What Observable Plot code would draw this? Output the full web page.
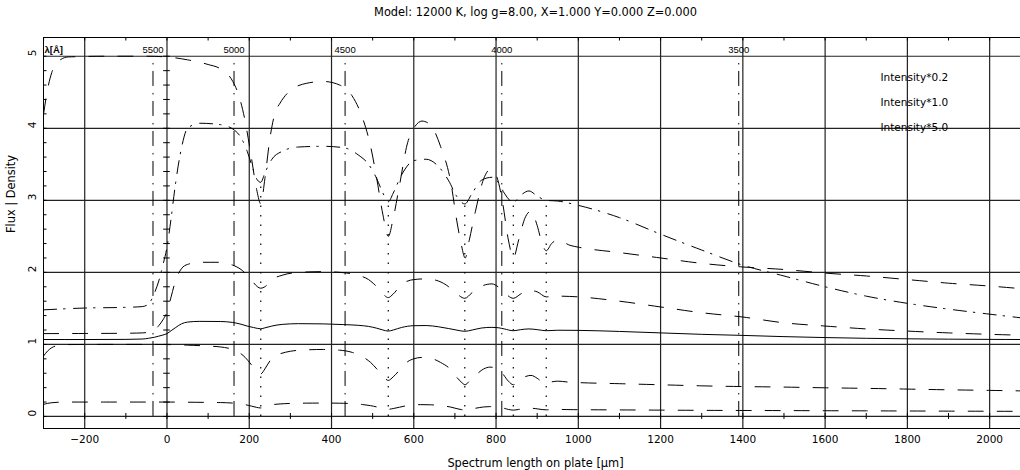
<!DOCTYPE html>
<html><head><meta charset="utf-8">
<script src="https://cdn.jsdelivr.net/npm/d3@7"></script>
<script src="https://cdn.jsdelivr.net/npm/@observablehq/plot@0.6"></script>
<style>html,body{margin:0;padding:0;background:#fff;overflow:hidden}svg{display:block}</style>
</head><body><div id="chart"></div>
<script>
// ---------- data ----------
const TITLE = "Model: 12000 K, log g=8.00, X=1.000 Y=0.000 Z=0.000";
const X_LABEL = "Spectrum length on plate [\u03bcm]";
const Y_LABEL = "Flux | Density";
const X_DOMAIN = [-300.2, 2075];
const Y_DOMAIN = [-0.167, 5.26];
const xMajor = [-200, 0, 200, 400, 600, 800, 1000, 1200, 1400, 1600, 1800, 2000];
const xMinor = d3.range(-300, 2076, 100);
const yMajor = [0, 1, 2, 3, 4, 5];
const yMinor = d3.range(0, 5.01, 0.2);
const legendLabels = ["Intensity*0.2", "Intensity*1.0", "Intensity*5.0"];

// wavelength markers (top scale, dash-dot verticals)
const lambdaLabel = "\u03bb[\u00c5]";
const markerX = [-34, 163, 433, 814, 1390];
const markerLabels = ["5500", "5000", "4500", "4000", "3500"];
const MARKER_TOP = 4.93;

// line positions (dotted verticals) and their upper ends
const lineX = [228, 538, 724, 842, 922];
const lineTop = [3.25, 2.98, 2.95, 2.97, 3.0];

// flux curves (long dash), three intensity scalings
const xFlux = [-300, -290, -280, -265, -240, -150, -50, 0, 50, 100, 130, 160, 175, 190, 205, 218, 228, 238, 250, 262, 275, 300, 340, 380, 420, 450, 475, 495, 510, 525, 538, 550, 565, 585, 600, 620, 640, 665, 690, 705, 715, 725, 735, 750, 770, 785, 800, 815, 830, 842, 855, 870, 885, 900, 912, 922, 935, 950, 980, 1000, 1100, 1200, 1300, 1400, 1500, 1600, 1700, 1800, 1900, 2000, 2075];
const flux10 = [0.84, 0.91, 0.955, 0.985, 0.998, 1.0, 1.0, 0.998, 0.99, 0.977, 0.965, 0.93, 0.89, 0.82, 0.72, 0.63, 0.59, 0.66, 0.77, 0.84, 0.87, 0.905, 0.925, 0.93, 0.92, 0.89, 0.83, 0.75, 0.66, 0.56, 0.5, 0.55, 0.64, 0.76, 0.8, 0.82, 0.81, 0.75, 0.65, 0.54, 0.48, 0.44, 0.49, 0.57, 0.66, 0.685, 0.67, 0.6, 0.49, 0.44, 0.49, 0.55, 0.57, 0.53, 0.48, 0.46, 0.48, 0.49, 0.475, 0.47, 0.455, 0.44, 0.425, 0.415, 0.408, 0.398, 0.39, 0.38, 0.37, 0.362, 0.355];
const flux50 = [4.2, 4.55, 4.775, 4.925, 4.99, 5.0, 5.0, 4.99, 4.95, 4.885, 4.825, 4.65, 4.45, 4.1, 3.6, 3.15, 2.95, 3.3, 3.85, 4.2, 4.35, 4.525, 4.625, 4.65, 4.6, 4.45, 4.15, 3.75, 3.3, 2.8, 2.5, 2.75, 3.2, 3.8, 4.0, 4.1, 4.05, 3.75, 3.25, 2.7, 2.4, 2.2, 2.45, 2.85, 3.3, 3.425, 3.35, 3.0, 2.45, 2.2, 2.45, 2.75, 2.85, 2.65, 2.4, 2.3, 2.4, 2.45, 2.375, 2.35, 2.275, 2.2, 2.125, 2.075, 2.04, 1.99, 1.95, 1.9, 1.85, 1.81, 1.775];
const flux02 = [0.168, 0.182, 0.191, 0.197, 0.2, 0.2, 0.2, 0.2, 0.198, 0.195, 0.193, 0.186, 0.178, 0.164, 0.144, 0.126, 0.118, 0.132, 0.154, 0.168, 0.174, 0.181, 0.185, 0.186, 0.184, 0.178, 0.166, 0.15, 0.132, 0.112, 0.1, 0.11, 0.128, 0.152, 0.16, 0.164, 0.162, 0.15, 0.13, 0.108, 0.096, 0.088, 0.098, 0.114, 0.132, 0.137, 0.134, 0.12, 0.098, 0.088, 0.098, 0.11, 0.114, 0.106, 0.096, 0.092, 0.096, 0.098, 0.095, 0.094, 0.091, 0.088, 0.085, 0.083, 0.0816, 0.0796, 0.078, 0.076, 0.074, 0.0724, 0.071];

// density curves
const xDens = [-300, -200, -100, -60, -45, -30, -20, -10, 0, 10, 20, 35, 50, 80, 130, 160, 180, 195, 210, 220, 228, 238, 255, 280, 320, 380, 430, 465, 490, 510, 525, 538, 550, 570, 600, 630, 660, 685, 705, 724, 742, 765, 790, 805, 820, 842, 860, 880, 900, 922, 950, 1000, 1100, 1200, 1300, 1400, 1500, 1600, 1700, 1800, 1900, 2000, 2075];
const densSolid = [1.068, 1.068, 1.07, 1.075, 1.085, 1.10, 1.115, 1.13, 1.15, 1.19, 1.23, 1.285, 1.31, 1.32, 1.318, 1.305, 1.28, 1.255, 1.235, 1.222, 1.217, 1.23, 1.255, 1.278, 1.288, 1.285, 1.275, 1.265, 1.25, 1.225, 1.2, 1.185, 1.2, 1.235, 1.26, 1.262, 1.245, 1.22, 1.198, 1.182, 1.2, 1.228, 1.237, 1.232, 1.215, 1.19, 1.205, 1.215, 1.205, 1.19, 1.197, 1.195, 1.18, 1.16, 1.14, 1.125, 1.108, 1.095, 1.085, 1.078, 1.073, 1.07, 1.068];
const densDash = [1.15, 1.152, 1.155, 1.16, 1.17, 1.2, 1.26, 1.34, 1.45, 1.66, 1.87, 2.05, 2.11, 2.14, 2.14, 2.1, 2.04, 1.96, 1.86, 1.8, 1.78, 1.8, 1.9, 1.96, 2.0, 2.01, 1.995, 1.96, 1.9, 1.8, 1.7, 1.65, 1.7, 1.83, 1.9, 1.91, 1.88, 1.8, 1.7, 1.64, 1.72, 1.81, 1.84, 1.8, 1.72, 1.64, 1.7, 1.75, 1.73, 1.66, 1.67, 1.66, 1.6, 1.52, 1.44, 1.38, 1.3, 1.255, 1.215, 1.185, 1.16, 1.14, 1.128];
const densDashDot = [1.48, 1.505, 1.515, 1.525, 1.56, 1.72, 1.88, 2.1, 2.35, 2.75, 3.2, 3.72, 4.0, 4.07, 4.05, 3.99, 3.87, 3.68, 3.42, 3.28, 3.25, 3.38, 3.57, 3.68, 3.74, 3.75, 3.73, 3.63, 3.5, 3.3, 3.1, 2.98, 3.1, 3.35, 3.55, 3.57, 3.47, 3.27, 3.05, 2.95, 3.1, 3.28, 3.32, 3.25, 3.1, 2.97, 3.07, 3.13, 3.06, 3.0, 2.99, 2.93, 2.76, 2.53, 2.31, 2.1, 1.95, 1.8, 1.67, 1.57, 1.49, 1.42, 1.37];

// ---------- build ----------
const pts = (xs, ys) => xs.map((x, i) => ({x, y: ys[i]}));
const fmtX = d => d < 0 ? "\u2212" + Math.abs(d) : String(d);
const GRID = "#222";
const LONG_DASH = "15,14";
const DASH_DOT = "13,7,1.5,8.5";

const curve = (xs, ys, dash) => Plot.line(pts(xs, ys), {
  x: "x", y: "y", stroke: "#000", strokeWidth: 1, curve: "monotone-x",
  strokeDasharray: dash, clip: "frame"
});

const chart = Plot.plot({
  width: 1020, height: 470,
  marginLeft: 43, marginRight: 0, marginTop: 37, marginBottom: 42,
  x: {domain: X_DOMAIN, axis: null},
  y: {domain: Y_DOMAIN, axis: null},
  style: {fontFamily: "DejaVu Sans", fontSize: "10.5px", background: "#fff", color: "#000", overflow: "visible"},
  marks: [
    // grid
    Plot.ruleX(xMajor, {x: d => d, stroke: GRID, strokeWidth: 1.2}),
    Plot.ruleY(yMajor, {y: d => d, stroke: GRID, strokeWidth: 1.2}),
    // frame (left, top, bottom)
    Plot.ruleX([X_DOMAIN[0]], {x: d => d, stroke: "#000", strokeWidth: 1}),
    Plot.ruleY(Y_DOMAIN, {y: d => d, stroke: "#000", strokeWidth: 1}),
    // minor ticks
    Plot.ruleY(yMinor, {y: d => d, x1: X_DOMAIN[0], x2: X_DOMAIN[0], insetLeft: 0, insetRight: -3.5, stroke: "#000"}),
    Plot.ruleY(yMinor, {y: d => d, x1: 0, x2: 0, insetLeft: -3.3, insetRight: -3.3, stroke: "#000"}),
    Plot.ruleX(xMinor, {x: d => d, y1: 0, y2: 0, insetTop: -3, insetBottom: -3, stroke: "#000"}),
    Plot.ruleX(xMinor, {x: d => d, y1: Y_DOMAIN[1], y2: Y_DOMAIN[1], insetTop: 0, insetBottom: -3.5, stroke: "#000"}),
    // wavelength markers
    Plot.ruleX(markerX, {x: d => d, y1: 0, y2: MARKER_TOP, stroke: "#000", strokeWidth: 1, strokeDasharray: "15,6.5,1.5,7"}),
    // line positions
    Plot.ruleX(lineX, {x: d => d, y1: 0, y2: (d, i) => lineTop[i], stroke: "#000", strokeWidth: 1.2, strokeDasharray: "1.5,8"}),
    // curves
    curve(xFlux, flux50, LONG_DASH),
    curve(xFlux, flux10, LONG_DASH),
    curve(xFlux, flux02, LONG_DASH),
    curve(xDens, densSolid, null),
    curve(xDens, densDash, LONG_DASH),
    curve(xDens, densDashDot, DASH_DOT),
    // tick labels
    Plot.text(xMajor, {x: d => d, frameAnchor: "bottom", dy: 11, text: fmtX, lineAnchor: "middle", fontSize: 10.5}),
    Plot.text(yMajor, {y: d => d, frameAnchor: "left", dx: -11, rotate: -90, text: d => String(d), lineAnchor: "middle", fontSize: 10.5}),
    // wavelength labels
    Plot.text(markerX, {x: d => d, text: (d, i) => markerLabels[i], frameAnchor: "top", dy: 12, lineAnchor: "middle", fontFamily: "Liberation Sans", fontSize: 9.5}),
    Plot.text([lambdaLabel], {frameAnchor: "top-left", dx: 1, dy: 12, textAnchor: "start", lineAnchor: "middle", fontFamily: "Liberation Sans", fontWeight: "bold", fontSize: 9.5}),
    // legend
    ...legendLabels.map((t, i) => Plot.text([t], {frameAnchor: "top-right", dx: -140, dy: 40.3 + 25 * i, textAnchor: "start", lineAnchor: "middle", fontSize: 10.5})),
    // titles
    Plot.text([TITLE], {frameAnchor: "top", dx: 3.5, dy: -25, lineAnchor: "middle", fontSize: 11.4}),
    Plot.text([X_LABEL], {frameAnchor: "bottom", dx: 3.5, dy: 34.5, lineAnchor: "middle", fontSize: 11.4}),
    Plot.text([Y_LABEL], {frameAnchor: "left", dx: -32, rotate: -90, lineAnchor: "middle", fontSize: 11.4})
  ]
});
document.getElementById("chart").append(chart);
</script></body></html>
